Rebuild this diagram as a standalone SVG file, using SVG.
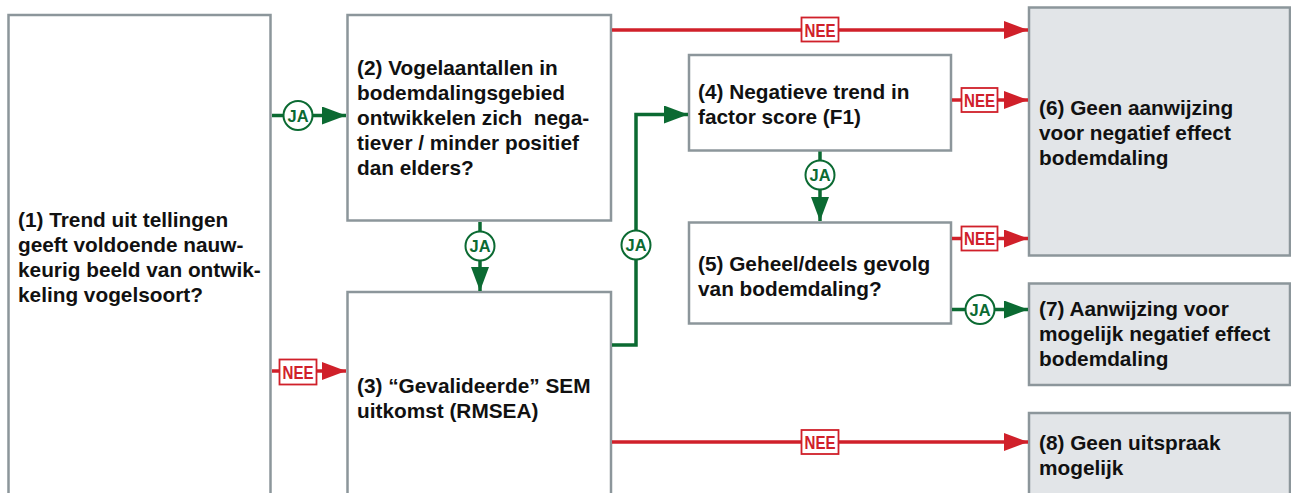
<svg xmlns="http://www.w3.org/2000/svg" width="1291" height="493" viewBox="0 0 1291 493">
<style>
.box{fill:#ffffff;stroke:#8c969b;stroke-width:2.5}
.end{fill:#e2e5e8;stroke:#8c969b;stroke-width:2.5}
.t{font-family:"Liberation Sans",Arial,sans-serif;font-weight:bold;font-size:20.8px;fill:#111111}
.g{stroke:#0b6a32;stroke-width:3.5;fill:none}
.r{stroke:#d0202a;stroke-width:3.5;fill:none}
.gc{fill:#ffffff;stroke:#0b6a32;stroke-width:2}
.rc{fill:#ffffff;stroke:#d0202a;stroke-width:1.8}
.gl{font-family:"Liberation Sans",Arial,sans-serif;font-weight:bold;font-size:17px;fill:#0b6a32;text-anchor:middle}
.rl{font-family:"Liberation Sans",Arial,sans-serif;font-weight:bold;font-size:18px;fill:#d0202a;text-anchor:middle}
</style>
<defs>
<marker id="ag" markerWidth="24" markerHeight="18" refX="24" refY="9" orient="auto" markerUnits="userSpaceOnUse"><path d="M0,0 L24,9 L0,18 Z" fill="#0b6a32"/></marker>
<marker id="ar" markerWidth="24" markerHeight="18" refX="24" refY="9" orient="auto" markerUnits="userSpaceOnUse"><path d="M0,0 L24,9 L0,18 Z" fill="#d0202a"/></marker>
</defs>
<rect width="1291" height="493" fill="#ffffff"/>
<g id="n1"><rect class="box" x="8.5" y="15" width="262" height="490"/>
<text class="t"><tspan x="18" y="226.5">(1) Trend uit tellingen</tspan><tspan x="18" y="251.5">geeft voldoende nauw-</tspan><tspan x="18" y="276.5">keurig beeld van ontwik-</tspan><tspan x="18" y="301.5">keling vogelsoort?</tspan></text></g>
<g id="n2"><rect class="box" x="347.5" y="15" width="263.5" height="205.5"/>
<text class="t" xml:space="preserve"><tspan x="357" y="75">(2) Vogelaantallen in</tspan><tspan x="357" y="100">bodemdalingsgebied</tspan><tspan x="357" y="125">ontwikkelen zich  nega-</tspan><tspan x="357" y="150">tiever / minder positief</tspan><tspan x="357" y="175">dan elders?</tspan></text></g>
<g id="n3"><rect class="box" x="347.5" y="292" width="263.5" height="215"/>
<text class="t"><tspan x="357" y="393">(3) “Gevalideerde” SEM</tspan><tspan x="357" y="418">uitkomst (RMSEA)</tspan></text></g>
<g id="n4"><rect class="box" x="689" y="55" width="262" height="95.5"/>
<text class="t"><tspan x="698" y="99">(4) Negatieve trend in</tspan><tspan x="698" y="124">factor score (F1)</tspan></text></g>
<g id="n5"><rect class="box" x="689" y="222.5" width="262" height="101"/>
<text class="t"><tspan x="698" y="271">(5) Geheel/deels gevolg</tspan><tspan x="698" y="296">van bodemdaling?</tspan></text></g>
<g id="n6"><rect class="end" x="1029" y="7.5" width="261" height="248"/>
<text class="t"><tspan x="1039" y="115">(6) Geen aanwijzing</tspan><tspan x="1039" y="140">voor negatief effect</tspan><tspan x="1039" y="165">bodemdaling</tspan></text></g>
<g id="n7"><rect class="end" x="1029" y="283.5" width="261" height="101.5"/>
<text class="t"><tspan x="1039" y="316">(7) Aanwijzing voor</tspan><tspan x="1039" y="341">mogelijk negatief effect</tspan><tspan x="1039" y="366">bodemdaling</tspan></text></g>
<g id="n8"><rect class="end" x="1029" y="413" width="261" height="95"/>
<text class="t"><tspan x="1039" y="450">(8) Geen uitspraak</tspan><tspan x="1039" y="475">mogelijk</tspan></text></g>
<g id="connectors">
<path class="g" d="M272,115.5 L346,115.5" marker-end="url(#ag)"/>
<circle class="gc" cx="298" cy="115.5" r="14.5"/><text class="gl" x="298" y="121.5" textLength="21" lengthAdjust="spacingAndGlyphs">JA</text>
<path class="r" d="M272,371 L346,371" marker-end="url(#ar)"/>
<rect class="rc" x="279.5" y="359.5" width="37" height="25"/><text class="rl" x="298" y="378.5" textLength="31" lengthAdjust="spacingAndGlyphs">NEE</text>
<path class="g" d="M480,222 L480,291" marker-end="url(#ag)"/>
<circle class="gc" cx="480" cy="246" r="14.5"/><text class="gl" x="480" y="252" textLength="21" lengthAdjust="spacingAndGlyphs">JA</text>
<path class="g" d="M612,345 L636,345 L636,114.5 L688,114.5" marker-end="url(#ag)"/>
<circle class="gc" cx="636" cy="245" r="14.5"/><text class="gl" x="636" y="251" textLength="21" lengthAdjust="spacingAndGlyphs">JA</text>
<path class="r" d="M612,30 L1028,30" marker-end="url(#ar)"/>
<rect class="rc" x="801.5" y="17.5" width="37" height="24"/><text class="rl" x="820" y="36.5" textLength="31" lengthAdjust="spacingAndGlyphs">NEE</text>
<path class="r" d="M952,100 L1028,100" marker-end="url(#ar)"/>
<rect class="rc" x="961.5" y="88" width="36" height="24"/><text class="rl" x="979.5" y="106.5" textLength="31" lengthAdjust="spacingAndGlyphs">NEE</text>
<path class="g" d="M820,151.5 L820,221" marker-end="url(#ag)"/>
<circle class="gc" cx="820" cy="175" r="14.5"/><text class="gl" x="820" y="181" textLength="21" lengthAdjust="spacingAndGlyphs">JA</text>
<path class="r" d="M952,238.5 L1028,238.5" marker-end="url(#ar)"/>
<rect class="rc" x="961.5" y="226.5" width="36" height="24"/><text class="rl" x="979.5" y="245" textLength="31" lengthAdjust="spacingAndGlyphs">NEE</text>
<path class="g" d="M952,309.5 L1028,309.5" marker-end="url(#ag)"/>
<circle class="gc" cx="980" cy="309.5" r="14.5"/><text class="gl" x="980" y="315.5" textLength="21" lengthAdjust="spacingAndGlyphs">JA</text>
<path class="r" d="M612,442 L1028,442" marker-end="url(#ar)"/>
<rect class="rc" x="801.5" y="430" width="37" height="24"/><text class="rl" x="820" y="448.5" textLength="31" lengthAdjust="spacingAndGlyphs">NEE</text>
</g>
</svg>
